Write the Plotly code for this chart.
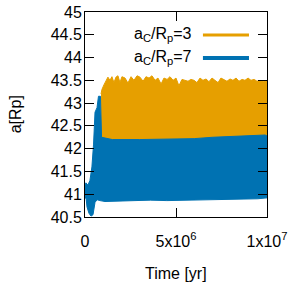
import plotly.graph_objects as go

# ---- data (time in Myr, semi-major axis in Rp) ----
t_orange_top = [0.88, 0.93, 1.04, 1.15, 1.26, 1.37, 1.48, 1.59, 1.70, 1.81, 1.92, 2.03, 2.20, 2.36,
                2.53, 2.69, 2.86, 3.02, 3.19, 3.35, 3.52, 3.68, 3.85, 4.01, 4.18, 4.34, 4.51, 4.67,
                4.84, 5.00, 5.16, 5.33, 5.49, 5.66, 5.82, 5.99, 6.15, 6.32, 6.48, 6.65, 6.81, 6.98,
                7.14, 7.31, 7.47, 7.64, 7.80, 7.97, 8.13, 8.30, 8.46, 8.63, 8.79, 8.96, 9.12, 9.29,
                9.45, 9.62, 9.78, 10.0]
a_orange_top = [43.2, 43.3, 43.4, 43.48, 43.57, 43.5, 43.58, 43.45, 43.57, 43.6, 43.45, 43.58, 43.55, 43.44,
                43.58, 43.5, 43.6, 43.57, 43.48, 43.58, 43.55, 43.6, 43.5, 43.55, 43.42, 43.55, 43.52, 43.58,
                43.5, 43.55, 43.38, 43.52, 43.5, 43.48, 43.52, 43.5, 43.45, 43.55, 43.5, 43.53, 43.47, 43.55,
                43.5, 43.45, 43.55, 43.52, 43.48, 43.53, 43.5, 43.55, 43.48, 43.52, 43.5, 43.55, 43.5, 43.52,
                43.48, 43.5, 43.47, 43.48]
t_orange_low = [0.88, 10.0]
a_orange_low = [42.0, 42.0]

t_blue_top = [0.00, 0.05, 0.16, 0.27, 0.38, 0.47, 0.55, 0.66, 0.74, 0.85, 0.91, 1.5, 3.0, 4.5, 6.0,
              7.0, 8.0, 9.0, 9.9, 10.0]
a_blue_top = [41.2, 41.25, 41.2, 41.3, 41.6, 42.1, 42.8, 42.9, 43.15, 43.15, 42.25, 42.2, 42.2, 42.21,
              42.22, 42.25, 42.27, 42.28, 42.3, 42.28]
t_blue_low = [0.00, 0.05, 0.11, 0.22, 0.33, 0.44, 0.49, 0.55, 0.66, 0.82, 1.1, 2.0, 3.0, 3.6, 4.5,
              5.5, 6.3, 7.4, 8.5, 9.5, 10.0]
a_blue_low = [40.9, 40.95, 40.72, 40.58, 40.52, 40.55, 40.7, 40.82, 40.88, 40.86, 40.84, 40.84, 40.86,
              40.87, 40.86, 40.87, 40.87, 40.88, 40.89, 40.9, 40.92]

series_names = ["a<sub>C</sub>/R<sub>p</sub>=3", "a<sub>C</sub>/R<sub>p</sub>=7"]
series_colors = ["#E69F00", "#0072B2"]

x_tick_vals = [0, 5e6, 1e7]
x_tick_text = ["0", "5x10<sup>6</sup>", "1x10<sup>7</sup>"]
y_tick_vals = [40.5, 41, 41.5, 42, 42.5, 43, 43.5, 44, 44.5, 45]
y_tick_text = ["40.5", "41", "41.5", "42", "42.5", "43", "43.5", "44", "44.5", "45"]

MYR = 1e6
FONT = "Liberation Sans"


def band(t_top, a_top, t_low, a_low):
    xs = [t * MYR for t in t_top] + [t * MYR for t in t_low[::-1]]
    ys = list(a_top) + list(a_low[::-1])
    return xs, ys


fig = go.Figure()
for (tt, at, tl, al), col in zip(
        [(t_orange_top, a_orange_top, t_orange_low, a_orange_low),
         (t_blue_top, a_blue_top, t_blue_low, a_blue_low)], series_colors):
    xs, ys = band(tt, at, tl, al)
    fig.add_trace(go.Scatter(x=xs, y=ys, fill="toself", fillcolor=col, mode="lines",
                             line=dict(color=col, width=1), showlegend=False, hoverinfo="skip"))

# manual gnuplot-style key
key_y = [0.888, 0.776]
for name, col, ky, lw in zip(series_names, series_colors, key_y, [3, 4]):
    fig.add_annotation(x=0.599, y=ky, xref="paper", yref="paper", text=name, showarrow=False,
                       xanchor="right", yanchor="middle", font=dict(size=16, color="black", family=FONT))
    fig.add_shape(type="line", xref="paper", yref="paper", x0=0.648, x1=0.901, y0=ky, y1=ky,
                  line=dict(color=col, width=lw))

fig.add_annotation(x=0.5, y=-0.278, xref="paper", yref="paper", text="Time [yr]", showarrow=False,
                   xanchor="center", yanchor="middle", font=dict(size=16, color="black", family=FONT))
fig.add_annotation(x=-0.38, y=0.5, xref="paper", yref="paper", text="a[Rp]", showarrow=False,
                   textangle=-90, xanchor="center", yanchor="middle",
                   font=dict(size=16, color="black", family=FONT))

fig.update_xaxes(range=[0, 1e7], tickvals=x_tick_vals, ticktext=x_tick_text, ticks="inside", ticklen=9,
                 tickcolor="black", showline=True, linecolor="black", linewidth=1, mirror="allticks",
                 showgrid=False, zeroline=False, ticklabelstandoff=10, automargin=False,
                 ticklabeloverflow="allow",
                 tickfont=dict(size=16, color="black", family=FONT))
fig.update_yaxes(range=[40.5, 45], tickvals=y_tick_vals, ticktext=y_tick_text, ticks="inside", ticklen=9,
                 tickcolor="black", showline=True, linecolor="black", linewidth=1, mirror="allticks",
                 showgrid=False, zeroline=False, ticklabelstandoff=-1, automargin=False,
                 ticklabeloverflow="allow",
                 tickfont=dict(size=16, color="black", family=FONT))

fig.update_layout(width=294, height=292, margin=dict(l=85, r=27, t=12, b=75),
                  plot_bgcolor="white", paper_bgcolor="white", showlegend=False)

# remove the default 8px page margin so the figure fills the window exactly
fig.write_html("out.html", config={"displayModeBar": False},
               post_script="document.body.style.margin='0';")
